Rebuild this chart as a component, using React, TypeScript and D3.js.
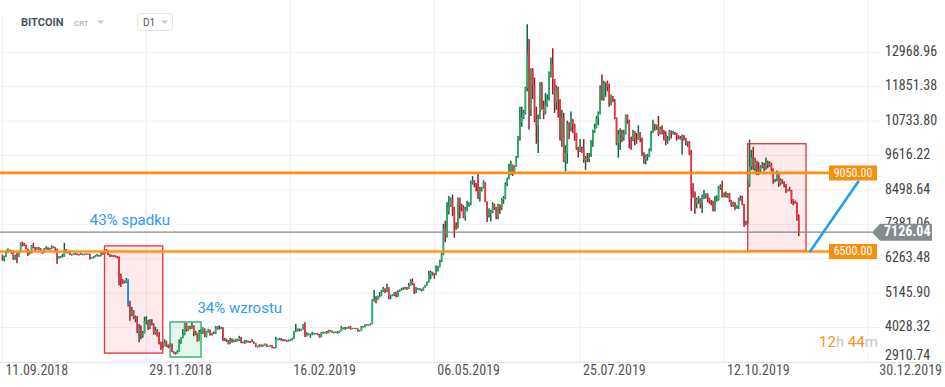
import React from 'react';
import * as d3 from 'd3';

const W = 945;
const H = 387;

// daily candles, first day 11.09.2018, last 22.11.2019 (open = previous close)
const firstDay = '2018-09-11';
const firstOpen = 6300;

const closes = [
  // sep 2018
  6280, 6330, 6490, 6500, 6520, 6500, 6250, 6340, 6330, 6490, 6760, 6720, 6700, 6590, 6420, 6450, 6680, 6640, 6590, 6620,
  // oct 2018
  6590, 6510, 6470, 6580, 6630, 6580, 6600, 6660, 6640, 6590, 6280, 6320, 6330, 6340, 6560, 6480, 6470, 6400, 6400, 6420,
  6420, 6410, 6400, 6420, 6400, 6410, 6420, 6410, 6270, 6290, 6320,
  // nov 2018
  6350, 6380, 6360, 6480, 6410, 6460, 6530, 6400, 6340, 6370, 6360, 6330, 6310, 5720, 5560, 5520, 5500, 5580, 4780, 4450,
  4580, 4330, 4330, 3900, 4000, 3770, 3850, 4250, 4250, 4000,
  // dec 2018
  4200, 4150, 3850, 3950, 3750, 3500, 3400, 3420, 3550, 3450, 3400, 3500, 3250, 3200, 3190, 3250, 3550, 3700, 3800, 4150,
  3950, 4050, 4000, 4100, 3850, 3850, 3600, 3900, 3850, 4000, 3750,
  // jan 2019
  3900, 3950, 3800, 3850, 3840, 4040, 4000, 4000, 4020, 3650, 3650, 3600, 3500, 3650, 3560, 3600, 3650, 3600, 3700, 3550,
  3550, 3600, 3550, 3580, 3570, 3570, 3530, 3430, 3400, 3460, 3420,
  // feb 2019
  3460, 3500, 3410, 3420, 3450, 3380, 3370, 3650, 3650, 3690, 3620, 3620, 3610, 3590, 3600, 3620, 3670, 3900, 3930, 3970,
  3930, 3980, 4130, 3750, 3830, 3800, 3810, 3820,
  // mar 2019
  3830, 3840, 3800, 3720, 3860, 3870, 3880, 3860, 3940, 3920, 3870, 3890, 3870, 3870, 3920, 4030, 3990, 3990, 4030, 4060,
  3990, 4000, 4010, 3990, 3920, 3930, 4070, 4040, 4120, 4120, 4110,
  // apr 2019
  4150, 4900, 4980, 4920, 5050, 5060, 5200, 5300, 5200, 5330, 5050, 5080, 5080, 5150, 5030, 5200, 5240, 5290, 5280, 5330,
  5290, 5400, 5530, 5450, 5200, 5270, 5280, 5280, 5220, 5330,
  // may 2019
  5400, 5500, 5750, 5820, 5780, 5740, 5950, 6000, 6200, 6400, 7250, 6980, 7820, 7980, 8200, 7870, 7350, 7260, 8200, 7980,
  7950, 7630, 7880, 7990, 8050, 8740, 8790, 8720, 8660, 8270, 8550,
  // jun 2019
  8560, 8740, 8120, 7680, 7790, 7800, 8000, 7930, 7630, 8020, 7920, 8170, 8230, 8690, 8850, 8990, 9320, 9080, 9280, 9550,
  10200, 10700, 10850, 11000, 11800, 12900, 11100, 12400, 11900, 10800,
  // jul 2019
  10600, 10800, 11950, 11150, 11000, 11250, 11450, 12300, 12570, 12100, 11350, 11800, 11400, 10200, 10850, 9450, 9700, 10650, 10500, 10760,
  10600, 10330, 9850, 9770, 9880, 9850, 9480, 9530, 9510, 9590, 10090,
  // aug 2019
  10400, 10520, 10820, 10980, 11780, 11460, 11980, 11980, 11850, 11280, 11550, 11380, 10850, 10020, 10300, 10350, 10220, 10330, 10920, 10760,
  10130, 10120, 10400, 10140, 10130, 10360, 10170, 9720, 9490, 9580, 9600,
  // sep 2019
  9770, 10380, 10620, 10580, 10580, 10320, 10490, 10400, 10320, 10110, 10160, 10410, 10360, 10360, 10310, 10260, 10190, 10160, 10270, 10180,
  10020, 10060, 9700, 8530, 8430, 8060, 8190, 8200, 8050, 8300,
  // oct 2019
  8330, 8370, 8240, 8150, 8130, 7860, 8200, 8200, 8580, 8590, 8270, 8330, 8300, 8370, 8160, 8000, 8080, 7960, 7960, 8230,
  8220, 8030, 7450, 7420, 8670, 9260, 9550, 9220, 9430, 9180, 9150,
  // nov 2019
  9250, 9310, 9190, 9410, 9310, 9350, 9180, 8800, 8810, 9030, 8720, 8820, 8760, 8640, 8470, 8500, 8490, 8170, 8120, 8080,
  7620, 7126.04,
];

const highs = [
  6400, 6360, 6530, 6600, 6560, 6530, 6540, 6390, 6460, 6520, 6800, 6820, 6780, 6720, 6590, 6540, 6710, 6780, 6650, 6640,
  6650, 6610, 6520, 6610, 6670, 6630, 6620, 6700, 6670, 6640, 6590, 6350, 6360, 6420, 6780, 6580, 6500, 6490, 6420, 6440,
  6460, 6440, 6420, 6460, 6430, 6430, 6440, 6430, 6430, 6310, 6350,
  6380, 6420, 6390, 6510, 6490, 6480, 6580, 6540, 6410, 6400, 6380, 6380, 6350, 6340, 5780, 5600, 5560, 5640, 5600, 4900,
  4700, 4600, 4420, 4400, 4150, 4100, 3920, 4380, 4400, 4280,
  4300, 4300, 4170, 4050, 3980, 3880, 3570, 3550, 3650, 3600, 3480, 3520, 3510, 3260, 3230, 3290, 3640, 3710, 3980, 4180,
  4180, 4080, 4090, 4200, 4100, 3920, 3860, 3950, 3970, 4040, 4000,
  3920, 3990, 3960, 3870, 3900, 4080, 4070, 4100, 4060, 4040, 3700, 3670, 3620, 3700, 3680, 3640, 3670, 3660, 3760, 3720,
  3580, 3630, 3620, 3600, 3590, 3660, 3580, 3530, 3440, 3490, 3480,
  3480, 3510, 3500, 3440, 3460, 3460, 3400, 3730, 3670, 3700, 3690, 3660, 3650, 3630, 3640, 3650, 3700, 3920, 4150, 4000,
  4000, 3990, 4140, 4200, 3880, 3840, 3830, 3890,
  3860, 3850, 3840, 3820, 3880, 3890, 3900, 3920, 3960, 3940, 3930, 3900, 3900, 3920, 3930, 4080, 4030, 4050, 4040, 4070,
  4080, 4010, 4020, 4010, 4000, 3950, 4080, 4070, 4130, 4140, 4130,
  4170, 4950, 5250, 5050, 5070, 5190, 5250, 5350, 5300, 5450, 5340, 5100, 5110, 5180, 5200, 5240, 5270, 5320, 5340, 5350,
  5350, 5480, 5600, 5620, 5460, 5350, 5310, 5310, 5290, 5340,
  5420, 5530, 5870, 5880, 5840, 5800, 6050, 6030, 6230, 6450, 7400, 7500, 8100, 8300, 8250, 8350, 7950, 7450, 8250, 8250,
  8050, 8000, 7950, 8150, 8100, 8800, 8950, 8820, 8720, 9050, 8600,
  8600, 8810, 8750, 8120, 7900, 7850, 8100, 8050, 7950, 8050, 8030, 8230, 8300, 8750, 8900, 9350, 9450, 9320, 9300, 9600,
  10250, 11200, 11200, 11100, 11850, 13880, 13400, 12450, 12450, 12150,
  11200, 10950, 12000, 12000, 11400, 11650, 11600, 12350, 12800, 13100, 12100, 11900, 11850, 11450, 11100, 11000, 9950, 10750, 10700, 11050,
  10800, 10650, 10350, 9900, 10150, 9900, 10150, 9600, 9700, 9700, 10120,
  10450, 10650, 10900, 11050, 11900, 12250, 12050, 12000, 12050, 11950, 11600, 11550, 11450, 10850, 10450, 10500, 10450, 10450, 10950, 10950,
  10780, 10230, 10450, 10400, 10350, 10600, 10380, 10200, 9720, 9650, 9670,
  9850, 10420, 10780, 10650, 10620, 10900, 10550, 10600, 10450, 10400, 10250, 10450, 10430, 10420, 10380, 10350, 10280, 10250, 10300, 10280,
  10190, 10080, 10080, 9800, 8720, 8450, 8250, 8300, 8230, 8350,
  8500, 8390, 8390, 8250, 8170, 8150, 8300, 8320, 8630, 8680, 8800, 8420, 8450, 8400, 8400, 8170, 8120, 8100, 8000, 8250,
  8320, 8300, 8040, 7500, 8800, 10130, 9800, 9900, 9550, 9450, 9400,
  9300, 9400, 9380, 9550, 9450, 9430, 9380, 9200, 8860, 9130, 9070, 8880, 8850, 8780, 8690, 8520, 8600, 8500, 8200, 8150,
  8100, 7700,
];

const lows = [
  6200, 6180, 6320, 6450, 6480, 6420, 6230, 6230, 6120, 6320, 6480, 6660, 6670, 6570, 6350, 6400, 6440, 6600, 6500, 6560,
  6550, 6490, 6420, 6460, 6560, 6550, 6540, 6580, 6610, 6510, 6100, 6270, 6300, 6310, 6330, 6450, 6440, 6380, 6370, 6390,
  6400, 6380, 6370, 6390, 6380, 6380, 6400, 6390, 6240, 6260, 6280,
  6310, 6340, 6330, 6340, 6390, 6400, 6450, 6380, 6320, 6330, 6320, 6310, 6280, 5400, 5350, 5450, 5460, 5480, 4700, 4250,
  4400, 4300, 4200, 3850, 3550, 3650, 3700, 3840, 4130, 3950,
  3980, 4100, 3800, 3800, 3740, 3480, 3300, 3350, 3420, 3400, 3360, 3390, 3230, 3180, 3150, 3180, 3240, 3500, 3680, 3780,
  3900, 3920, 3970, 3990, 3750, 3780, 3570, 3590, 3840, 3820, 3720,
  3710, 3870, 3770, 3770, 3820, 3820, 3970, 3960, 3980, 3590, 3590, 3560, 3480, 3490, 3540, 3550, 3560, 3580, 3600, 3520,
  3520, 3500, 3540, 3540, 3530, 3560, 3500, 3400, 3380, 3390, 3410,
  3410, 3450, 3400, 3400, 3410, 3360, 3360, 3350, 3630, 3620, 3600, 3580, 3590, 3570, 3580, 3600, 3610, 3660, 3880, 3910,
  3900, 3920, 3960, 3720, 3740, 3780, 3700, 3780,
  3810, 3810, 3780, 3700, 3710, 3830, 3850, 3830, 3850, 3900, 3860, 3840, 3860, 3830, 3860, 3910, 3970, 3960, 3980, 4000,
  3960, 3980, 3990, 3980, 3900, 3900, 3930, 4030, 4040, 4090, 4100,
  4100, 4140, 4870, 4820, 4920, 5000, 5050, 5180, 5150, 5180, 4950, 4950, 5050, 5050, 5010, 5030, 5190, 5230, 5250, 5270,
  5250, 5280, 5390, 5410, 5120, 5150, 5250, 5240, 5200, 5220,
  5320, 5390, 5490, 5600, 5720, 5620, 5730, 5850, 5980, 6150, 6380, 6800, 6950, 7700, 7950, 7650, 6950, 7200, 7250, 7570,
  7800, 7580, 7500, 7800, 7950, 8000, 8670, 8580, 8450, 8200, 8120,
  8450, 8540, 8100, 7460, 7600, 7480, 7750, 7850, 7550, 7550, 7720, 7850, 8050, 8200, 8620, 8850, 8980, 8950, 9050, 9250,
  9550, 10100, 10550, 10800, 10950, 11700, 10460, 10900, 11450, 10700,
  10000, 9700, 10800, 11100, 10800, 10950, 11200, 11400, 12150, 11600, 11000, 11100, 10850, 10100, 9900, 9400, 9100, 9350, 10150, 10400,
  10350, 10100, 9800, 9550, 9730, 9700, 9380, 9150, 9400, 9400, 9570,
  9900, 10350, 10500, 10600, 10950, 11400, 11400, 11520, 11700, 11200, 11250, 11350, 10800, 9950, 9550, 9800, 10050, 10100, 10300, 10650,
  9850, 9800, 10080, 9950, 10000, 10120, 10050, 9600, 9350, 9330, 9450,
  9570, 9750, 10350, 10420, 10450, 10250, 10300, 10300, 10100, 9950, 10000, 10100, 10170, 10300, 10280, 10100, 10150, 10130, 9650, 10100,
  9950, 9900, 9630, 7820, 8250, 7720, 7900, 8050, 7900, 7750,
  8200, 8220, 8100, 8050, 8000, 7800, 7800, 8120, 8150, 8500, 8250, 8260, 8250, 8250, 8100, 7950, 7950, 7850, 7890, 7880,
  8150, 8000, 7300, 7350, 7400, 8600, 9150, 9150, 9100, 8980, 8980,
  9050, 9200, 9100, 9150, 9200, 9250, 9100, 8700, 8750, 8780, 8600, 8650, 8700, 8580, 8400, 8450, 8450, 8050, 8000, 8050,
  7500, 7000,
];

const blueDays = ['2018-11-19'];

const priceTicks = [2910.74, 4028.32, 5145.9, 6263.48, 7381.06, 8498.64, 9616.22, 10733.8, 11851.38, 12968.96];
const dateTicks = ['2018-09-11', '2018-11-29', '2019-02-16', '2019-05-06', '2019-07-25', '2019-10-12', '2019-12-30'];

const levels = [9050, 6500];
const lastPrice = 7126.04;

const boxFrom = ['2018-11-06', '2018-12-12', '2019-10-25'];
const boxTo = ['2018-12-08', '2018-12-29', '2019-11-26'];
const boxTop = [6680, 4210, 10000];
const boxBottom = [3200, 3073, 6515];
const boxKind = ['down', 'up', 'down'];

const noteText = ['43% spadku', '34% wzrostu'];
const noteDay = ['2018-10-29', '2018-12-27'];
const notePrice = [7360, 4490];

const trendDays = ['2019-11-28', '2019-12-25'];
const trendPrices = [6480, 8800];

const parse = d3.utcParse('%Y-%m-%d');
const fmtDate = d3.utcFormat('%d.%m.%Y');
const narrow = '"Liberation Sans Narrow", "Roboto Condensed", Roboto, sans-serif';

export default function App() {
  const start = parse(firstDay) as Date;
  const candles = closes.map((c, i) => ({
    date: d3.utcDay.offset(start, i),
    open: i === 0 ? firstOpen : closes[i - 1],
    high: highs[i],
    low: lows[i],
    close: c,
  }));
  const ticks = dateTicks.map((d) => parse(d) as Date);

  const x = d3.scaleUtc().domain([ticks[0], ticks[ticks.length - 1]]).range([2.4, 868]);
  const y = d3.scaleLinear().domain([priceTicks[0], priceTicks[priceTicks.length - 1]]).range([362, 52.3]);

  const bw = 1.5;
  const blue = new Set(blueDays);
  const orange = '#f7921e';
  const trendLine = d3.line<number>()
    .x((_, i) => x(parse(trendDays[i]) as Date))
    .y((p) => y(p));

  const py = y(lastPrice);

  return (
    <svg width={W} height={H} style={{ position: 'absolute', left: 0, top: 0, background: '#fff' }}
      fontFamily="Roboto, sans-serif">
      <rect width={W} height={H} fill="#fff" />

      {/* grid */}
      {priceTicks.map((t) => (
        <line key={t} x1={0} x2={880} y1={y(t)} y2={y(t)} stroke="#efefef" />
      ))}
      {ticks.map((t, i) => (
        <line key={i} x1={x(t)} x2={x(t)} y1={0} y2={y(priceTicks[0])} stroke="#eeeeee" />
      ))}
      <line x1={0} x2={W} y1={362.5} y2={362.5} stroke="#e6e6e6" />

      {/* boxes */}
      {boxFrom.map((f, i) => {
        const x0 = x(parse(f) as Date);
        const x1 = x(parse(boxTo[i]) as Date);
        const y0 = y(boxTop[i]);
        const y1 = y(boxBottom[i]);
        const up = boxKind[i] === 'up';
        return (
          <rect key={i} x={x0} y={y0} width={x1 - x0} height={y1 - y0}
            fill={up ? 'rgba(40,190,110,0.12)' : 'rgba(235,70,70,0.11)'} />
        );
      })}

      {/* candles */}
      {candles.map((d, i) => {
        const cx = x(d.date);
        const isUp = d.close >= d.open;
        const isBlue = blue.has(d3.utcFormat('%Y-%m-%d')(d.date));
        const top = Math.max(d.high, d.open, d.close);
        const bot = Math.min(d.low, d.open, d.close);
        const bTop = y(Math.max(d.open, d.close));
        const bBot = y(Math.min(d.open, d.close));
        const wick = isBlue ? '#1976d2' : isUp ? '#0c6b3f' : '#a4182a';
        const body = isBlue ? '#1e88e5' : isUp ? '#22b46c' : '#f3303f';
        return (
          <g key={i}>
            <rect x={cx - bw / 2} y={y(top)} width={bw} height={Math.max(1, y(bot) - y(top))} fill={wick} />
            <rect x={cx - bw / 2} y={bTop} width={bw} height={Math.max(1, bBot - bTop)} fill={body} />
          </g>
        );
      })}

      {/* box outlines */}
      {boxFrom.map((f, i) => {
        const x0 = x(parse(f) as Date);
        const x1 = x(parse(boxTo[i]) as Date);
        const y0 = y(boxTop[i]);
        const y1 = y(boxBottom[i]);
        const up = boxKind[i] === 'up';
        return (
          <rect key={i} x={x0} y={y0} width={x1 - x0} height={y1 - y0} fill="none"
            stroke={up ? '#1fa866' : '#e2333a'} strokeWidth={1.3} />
        );
      })}

      {/* current price line */}
      <line x1={0} x2={872} y1={py} y2={py} stroke="#7d878b" strokeWidth={1.2} />

      {/* horizontal levels */}
      {levels.map((l) => (
        <g key={l}>
          <line x1={0} x2={829} y1={y(l)} y2={y(l)} stroke={orange} strokeOpacity={0.3} strokeWidth={4.2} />
          <line x1={0} x2={829} y1={y(l)} y2={y(l)} stroke={orange} strokeWidth={2.2} />
        </g>
      ))}

      {/* trend line */}
      <path d={trendLine(trendPrices) as string} stroke="#1da0ee" strokeWidth={2.6} fill="none" />

      {/* level labels */}
      {levels.map((l) => (
        <g key={l}>
          <rect x={829} y={y(l) - 7.5} width={48} height={15} fill="#f88e0c" />
          <text x={853} y={y(l) + 0.5} fill="#fff" fontSize={12} fontFamily={narrow}
            textAnchor="middle" dominantBaseline="middle">{l.toFixed(2)}</text>
        </g>
      ))}

      {/* price axis */}
      {priceTicks.map((t, i) => (
        <text key={t} x={885} y={i === 0 ? 356 : y(t)} fontSize={14} fill="#444" fontFamily={narrow}
          dominantBaseline="middle">{t.toFixed(2)}</text>
      ))}
      <path d={`M872,${py} L880,${py - 8.5} L932,${py - 8.5} L932,${py + 8.5} L880,${py + 8.5} Z`} fill="#838d90" />
      <text x={884} y={py + 0.5} fontSize={14} fontWeight="bold" fill="#fff" fontFamily={narrow}
        dominantBaseline="middle">{lastPrice.toFixed(2)}</text>

      {/* date axis */}
      {ticks.map((t, i) => {
        const last = i === ticks.length - 1;
        return (
          <text key={i} x={last ? 942 : x(t) + 3} y={371} fontSize={14} fill="#555" fontFamily={narrow}
            textAnchor={last ? 'end' : 'start'} dominantBaseline="middle">{fmtDate(t)}</text>
        );
      })}

      {/* notes */}
      {noteText.map((t, i) => (
        <text key={t} x={x(parse(noteDay[i]) as Date)} y={y(notePrice[i])} fontSize={15} fill="#2e9bf0">{t}</text>
      ))}

      {/* countdown */}
      <text x={819} y={347} fontSize={15}>
        <tspan fill="#f7931a">12</tspan>
        <tspan fill="#c3c8cb">h</tspan>
        <tspan fill="#f7931a"> 44</tspan>
        <tspan fill="#c3c8cb">m</tspan>
      </text>

      {/* header */}
      <rect x={0} y={0} width={180} height={16} fill="#fff" />
      <text x={21} y={26} fontSize={11} fontWeight="bold" fill="#47525c">BITCOIN</text>
      <text x={74} y={26} fontSize={8} fill="#9aa3aa">CRT</text>
      <path d="M97,20.5 L104,20.5 L100.5,24 Z" fill="#c5cacd" />
      <rect x={137.5} y={13.5} width={35} height={17} rx={3} fill="#fff" stroke="#e3e3e3" />
      <text x={143} y={26} fontSize={10} fill="#555">D1</text>
      <path d="M161,20.5 L168,20.5 L164.5,24 Z" fill="#c5cacd" />
    </svg>
  );
}
